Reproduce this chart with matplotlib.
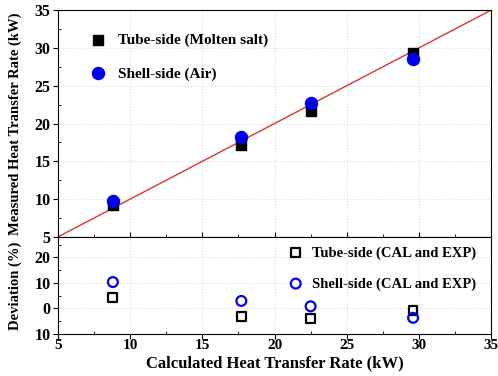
import matplotlib.pyplot as plt
from matplotlib.ticker import MultipleLocator

# Data
calc_rate = [8.8, 17.7, 22.5, 29.6]
tube_measured = [9.2, 17.2, 21.7, 29.3]
shell_measured = [9.8, 18.2, 22.7, 28.6]
tube_dev = [4.3, -3.2, -4.0, -0.8]
shell_dev = [10.3, 2.9, 0.8, -3.7]
diag = [5, 35]

plt.rcParams['font.family'] = ['Liberation Serif', 'DejaVu Serif']
plt.rcParams['font.weight'] = 'bold'
plt.rcParams['axes.labelweight'] = 'bold'

fig = plt.figure(figsize=(4.98, 3.76), dpi=100)
ax1 = fig.add_axes([0.1165, 0.370, 0.8695, 0.603])
ax2 = fig.add_axes([0.1165, 0.112, 0.8695, 0.258], sharex=ax1)

grid_kw = dict(color='#dcdcdc', linestyle=':', linewidth=0.8)

# Top panel
ax1.plot(diag, diag, color='#dd3333', linewidth=1.0, zorder=2)
ax1.scatter(calc_rate, tube_measured, marker='s', s=60, color='black',
            label='Tube-side (Molten salt)', zorder=3)
ax1.scatter(calc_rate, shell_measured, marker='o', s=75, color='#0000ee',
            label='Shell-side (Air)', zorder=4)
ax1.set_xlim(5, 35)
ax1.set_ylim(5, 35)
ax1.yaxis.set_major_locator(MultipleLocator(5))
ax1.yaxis.set_minor_locator(MultipleLocator(2.5))
ax1.xaxis.set_major_locator(MultipleLocator(5))
ax1.xaxis.set_minor_locator(MultipleLocator(2.5))
ax1.grid(True, which='major', **grid_kw)
ax1.set_ylabel('Measured Heat Transfer Rate (kW)', fontsize=10.5)
ax1.yaxis.set_label_coords(-0.083, 0.5)
ax1.tick_params(axis='x', which='both', labelbottom=False, direction='in')
ax1.tick_params(axis='y', which='major', direction='out', labelsize=11.5, pad=2)
ax1.tick_params(axis='y', which='minor', direction='in')
ax1.legend(loc='upper left', bbox_to_anchor=(0.025, 0.96), frameon=False,
           handletextpad=0.3, labelspacing=1.3,
           prop={'weight': 'bold', 'size': 11})

# Bottom panel
ax2.scatter(calc_rate, tube_dev, marker='s', s=40, facecolors='none',
            edgecolors='black', linewidths=1.6, label='Tube-side (CAL and EXP)', zorder=3)
ax2.scatter(calc_rate, shell_dev, marker='o', s=50, facecolors='none',
            edgecolors='#0000ee', linewidths=1.6, label='Shell-side (CAL and EXP)', zorder=3)
ax2.set_ylim(-10, 28)
ax2.set_yticks([-10, 0, 10, 20])
ax2.set_yticklabels(['10', '0', '10', '20'])
ax2.yaxis.set_minor_locator(MultipleLocator(5))
ax2.grid(True, which='major', **grid_kw)
ax2.set_ylabel('Deviation (%)', fontsize=10.5)
ax2.yaxis.set_label_coords(-0.083, 0.5)
ax2.set_xlabel('Calculated Heat Transfer Rate (kW)', fontsize=12)
ax2.xaxis.set_label_coords(0.5, -0.225)
ax2.tick_params(axis='x', which='major', direction='out', labelsize=11, pad=0.5)
ax2.tick_params(axis='x', which='minor', direction='in')
ax2.tick_params(axis='y', which='major', direction='out', labelsize=11.5, pad=2)
ax2.tick_params(axis='y', which='minor', direction='in')
ax2.legend(loc='upper left', bbox_to_anchor=(0.485, 1.04), frameon=False,
           handletextpad=0.1, labelspacing=1.2,
           prop={'weight': 'bold', 'size': 10.5})

fig.savefig('out.png', dpi=100)
